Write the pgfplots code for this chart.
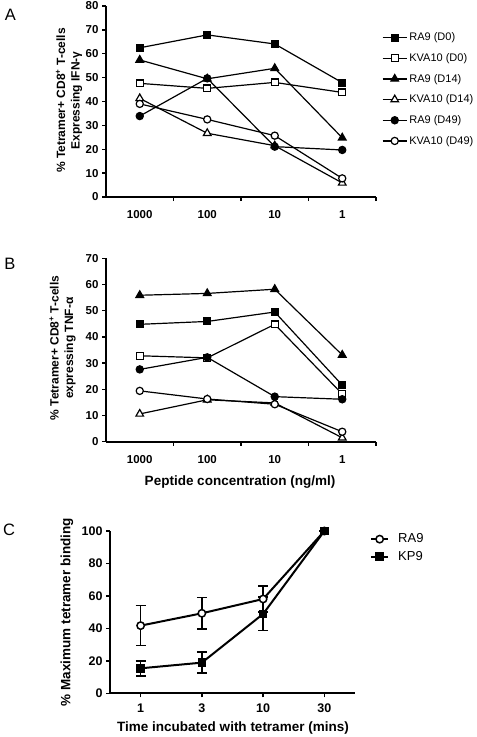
\documentclass[border=0pt]{standalone}
\usepackage{fontspec}
\setmainfont{Liberation Sans}
\usepackage{pgfplots}
\pgfplotsset{compat=1.18}

\pgfplotsset{
  base/.style={scale only axis, axis x line*=bottom, axis y line*=left,
    axis line style={line width=1.8pt, black}, tick align=outside,
    major tick length=4pt, tick style={line width=1.4pt, black},
    /pgf/number format/assume math mode=true, clip=false,
    every axis plot/.append style={line width=1.2pt, black}},
  fsq/.style={mark=square*, mark size=3.4pt, mark options={fill=black, solid}},
  osq/.style={mark=square*, mark size=3.4pt, mark options={fill=white, solid}},
  ftr/.style={mark=triangle*, mark size=4.4pt, mark options={fill=black, solid}},
  otr/.style={mark=triangle*, mark size=4.4pt, mark options={fill=white, solid}},
  fci/.style={mark=*, mark size=3.6pt, mark options={fill=black, solid}},
  oci/.style={mark=*, mark size=3.6pt, mark options={fill=white, solid}},
  abax/.style={base, width=270pt, xmin=-0.5, xmax=3.5,
    xtick={0.5,1.5,2.5,3.5}, xticklabels={,,,},
    extra x ticks={0,1,2,3}, extra x tick labels={1000,100,10,1},
    extra x tick style={major tick length=0pt, xticklabel style={yshift=-10pt}},
    tick label style={font=\bfseries\fontsize{11.5}{13}\selectfont}},
}

\begin{document}
\begin{tikzpicture}
\useasboundingbox (0pt,0pt) rectangle (477pt,-737pt);

% ---------------- Panel A ----------------
\begin{axis}[abax, at={(106pt,-197pt)}, anchor=south west, height=191pt,
  ymin=0, ymax=80, ytick={0,10,...,80},
  legend style={draw=none, fill=none, at={(axis description cs:1.022,0.871)},
    anchor=north west, font=\fontsize{11}{13}\selectfont, row sep=7.2pt,
    inner sep=0pt, cells={anchor=west}},
  legend image code/.code={\draw[mark repeat=2,mark phase=2,#1] plot coordinates {(0pt,0pt) (12pt,0pt) (24pt,0pt)};}]
\addplot[fsq] coordinates {(0,62.5) (1,67.9) (2,64.1) (3,47.9)};
\addplot[osq] coordinates {(0,47.6) (1,45.5) (2,48.0) (3,43.8)};
\addplot[ftr] coordinates {(0,57.4) (1,49.5) (2,53.9) (3,24.8)};
\addplot[otr] coordinates {(0,41.3) (1,26.7) (2,21.5) (3,5.9)};
\addplot[fci] coordinates {(0,33.9) (1,49.7) (2,21.1) (3,19.7)};
\addplot[oci] coordinates {(0,39.0) (1,32.5) (2,25.7) (3,7.8)};
\legend{RA9 (D0),KVA10 (D0),RA9 (D14),KVA10 (D14),RA9 (D49),KVA10 (D49)}
\end{axis}

% ---------------- Panel B ----------------
\begin{axis}[abax, at={(106pt,-441.7pt)}, anchor=south west, height=183.4pt,
  ymin=0, ymax=70, ytick={0,10,...,70}]
\addplot[fsq] coordinates {(0,44.8) (1,45.9) (2,49.5) (3,21.6)};
\addplot[osq] coordinates {(0,32.8) (1,32.0) (2,44.8) (3,18.2)};
\addplot[ftr] coordinates {(0,55.9) (1,56.6) (2,58.2) (3,33.1)};
\addplot[otr] coordinates {(0,10.6) (1,16.0) (2,14.8) (3,1.5)};
\addplot[fci] coordinates {(0,27.6) (1,32.2) (2,17.2) (3,16.2)};
\addplot[oci] coordinates {(0,19.4) (1,16.3) (2,14.3) (3,3.8)};
\end{axis}

% ---------------- Panel C ----------------
\begin{axis}[base, at={(110pt,-693.3pt)}, anchor=south west, width=245pt, height=162.3pt,
  xmin=-0.5, xmax=3.5, xtick={0,1,2,3}, xticklabels={1,3,10,30},
  ymin=0, ymax=100, ytick={0,20,...,100},
  xticklabel style={yshift=-3pt},
  tick label style={font=\bfseries\fontsize{12.5}{14}\selectfont},
  every axis plot/.append style={line width=2pt},
  legend style={draw=none, fill=none, at={(axis description cs:1.061,0.996)},
    anchor=north west, font=\fontsize{13}{15}\selectfont, row sep=3pt,
    column sep=7pt, inner sep=0pt, cells={anchor=west}}]
\addplot[mark=*, mark size=3.7pt, mark options={fill=white, solid, line width=1.5pt},
  error bars/.cd, y dir=both, y explicit,
  error bar style={line width=1.5pt},
  error mark options={rotate=90, mark size=5pt, line width=1.5pt}]
  coordinates {(0,41.7) +- (0,12.3) (1,49.3) +- (0,9.6) (2,58.1) +- (0,8.0) (3,100) +- (0,0)};
\addplot[mark=square*, mark size=3.3pt, mark options={fill=black, solid},
  error bars/.cd, y dir=both, y explicit,
  error bar style={line width=1.5pt},
  error mark options={rotate=90, mark size=5pt, line width=1.5pt}]
  coordinates {(0,15.4) +- (0,4.6) (1,18.9) +- (0,6.4) (2,48.9) +- (0,10.3) (3,100) +- (0,0)};
\legend{RA9,KP9}
\end{axis}

% ---------------- Text ----------------
\node[font=\fontsize{16.5}{18}\selectfont] at (10.5pt,-14.5pt) {A};
\node[font=\fontsize{16.5}{18}\selectfont] at (10pt,-264pt) {B};
\node[font=\fontsize{16.5}{18}\selectfont] at (9pt,-530pt) {C};

\node[rotate=90, align=center, font=\bfseries\fontsize{12}{14.5}\selectfont]
  at (69pt,-100.5pt) {\% Tetramer+ CD8\textsuperscript{+} T-cells\\Expressing IFN-γ};
\node[rotate=90, align=center, font=\bfseries\fontsize{12}{14.5}\selectfont]
  at (62.5pt,-348pt) {\% Tetramer+ CD8\textsuperscript{+} T-cells\\expressing TNF-α};
\node[font=\bfseries\fontsize{13.5}{16}\selectfont] at (240pt,-481.7pt) {Peptide concentration (ng/ml)};
\node[rotate=90, font=\bfseries\fontsize{13.5}{16}\selectfont] at (67pt,-612pt) {\% Maximum tetramer binding};
\node[font=\bfseries\fontsize{13.5}{16}\selectfont] at (233pt,-728pt) {Time incubated with tetramer (mins)};
\end{tikzpicture}
\end{document}
